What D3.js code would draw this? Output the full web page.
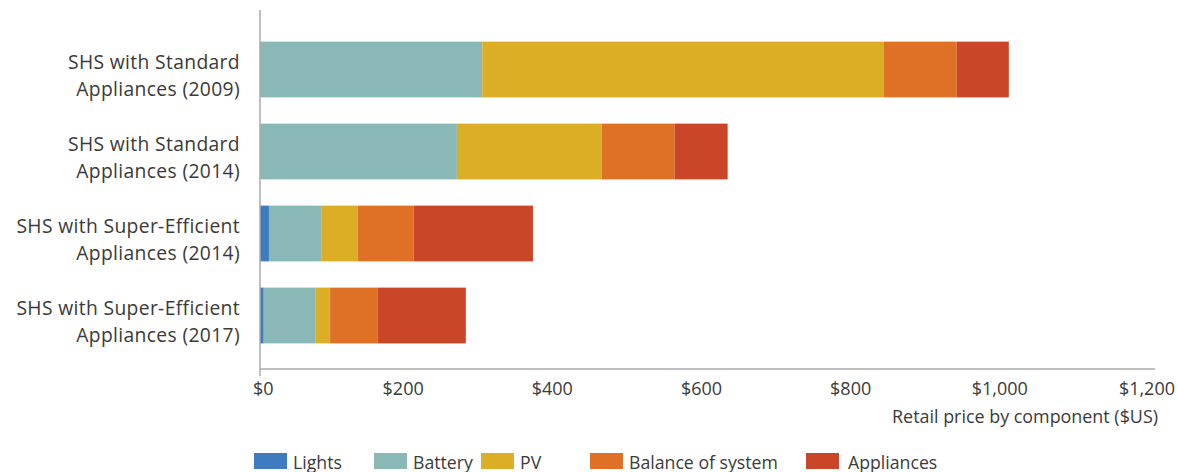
<!DOCTYPE html>
<html><head><meta charset="utf-8">
<script src="https://cdn.jsdelivr.net/npm/d3@7"></script>
<style>
body{margin:0;background:#fff;}
text{font-family:"Open Sans","Noto Sans",sans-serif;fill:#3a3a3a;}
</style></head>
<body><svg id="c" width="1178" height="472"></svg>
<script>
const categories = [
  ["SHS with Standard","Appliances (2009)"],
  ["SHS with Standard","Appliances (2014)"],
  ["SHS with Super-Efficient","Appliances (2014)"],
  ["SHS with Super-Efficient","Appliances (2017)"]
];
const seriesNames = ["Lights","Battery","PV","Balance of system","Appliances"];
const seriesColors = ["#3f7cbf","#89b8b6","#dcae26","#de7126","#c94628"];
const lights     = [0, 0, 12, 5];
const battery    = [298, 264, 70, 69];
const pv         = [538, 194, 49, 20];
const balance    = [98, 98, 75, 64];
const appliances = [70, 71, 160, 118];
const xTicks = [0,200,400,600,800,1000,1200];
const xTitle = "Retail price by component ($US)";

const svg = d3.select("#c");
const x = d3.scaleLinear().domain([0,1200]).range([260,1155]);
const y = d3.scaleBand().domain(d3.range(categories.length)).range([28.5,356.5]).paddingInner(0.32).paddingOuter(0.16);

const rows = categories.map((c,i)=>({i, Lights:lights[i], Battery:battery[i], PV:pv[i], "Balance of system":balance[i], Appliances:appliances[i]}));
const stack = d3.stack().keys(seriesNames)(rows);
const color = d3.scaleOrdinal().domain(seriesNames).range(seriesColors);

svg.append("g").selectAll("g").data(stack).join("g").attr("fill",d=>color(d.key))
  .selectAll("rect").data(d=>d).join("rect")
  .attr("x",d=>x(d[0])).attr("width",d=>x(d[1])-x(d[0]))
  .attr("y",d=>y(d.data.i)).attr("height",y.bandwidth());

// axes lines
svg.append("line").attr("x1",x(0)).attr("x2",x(1200)).attr("y1",369).attr("y2",369).attr("stroke","#aaa").attr("stroke-width",1.5);
svg.append("line").attr("x1",x(0)).attr("x2",x(0)).attr("y1",10).attr("y2",376).attr("stroke","#aaa").attr("stroke-width",1.5);

// x tick labels
const fmt = d=>"$"+d3.format(",")(d);
svg.append("g").selectAll("text").data(xTicks).join("text")
  .attr("x",(d,i)=> i===0 ? x(d)-7 : (i===xTicks.length-1 ? 1175 : x(d)-6))
  .attr("y",395)
  .attr("text-anchor",(d,i)=> i===0 ? "start" : (i===xTicks.length-1 ? "end" : "middle"))
  .style("font-size","18px").text(fmt);
svg.append("text").attr("x",1158).attr("y",423).attr("text-anchor","end").style("font-size","17.9px").text(xTitle);

// category labels
const cl = svg.append("g").selectAll("text").data(categories).join("text")
  .attr("text-anchor","end").style("font-size","19.3px").style("letter-spacing","0.35px")
  .attr("transform",(d,i)=>`translate(240,${y(i)+y.bandwidth()/2})`);
cl.selectAll("tspan").data(d=>d).join("tspan").attr("x",0).attr("y",(d,j)=>j===0?-0.5:26).text(d=>d);

// legend
const legX = [254,374,481,590,806];
const lg = svg.append("g").selectAll("g").data(seriesNames).join("g").attr("transform",(d,i)=>`translate(${legX[i]},453)`);
lg.append("rect").attr("width",33).attr("height",16).attr("fill",d=>color(d));
lg.append("text").attr("x",d=>d==="Appliances"?42:39).attr("y",15.5).style("font-size","17.7px").text(d=>d);
</script></body></html>
